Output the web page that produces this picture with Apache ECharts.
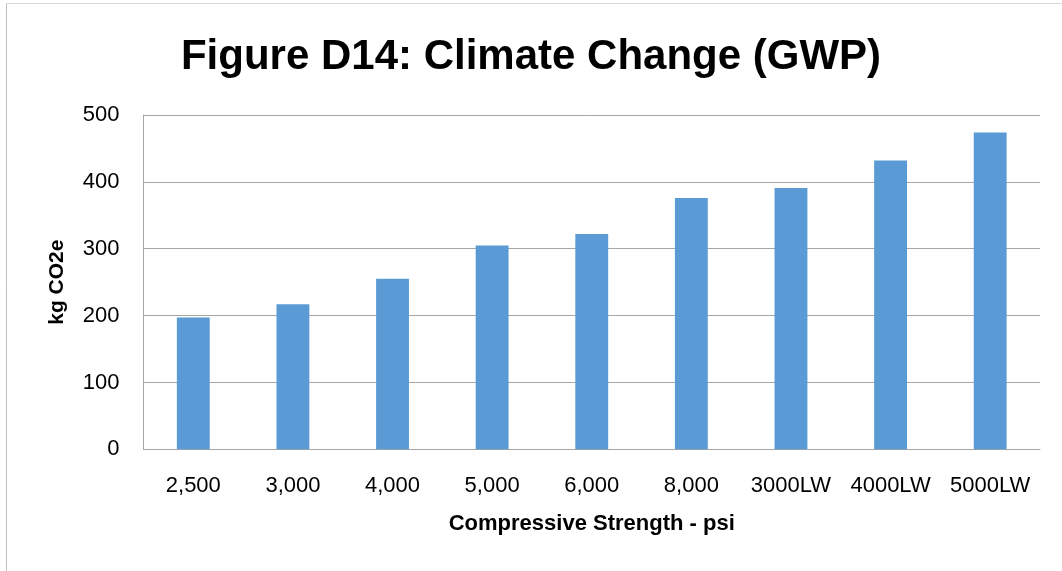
<!DOCTYPE html>
<html><head><meta charset="utf-8">
<script src="https://cdn.jsdelivr.net/npm/echarts@6/dist/echarts.min.js"></script>
<style>html,body{margin:0;padding:0;background:#fff}#c{width:1062px;height:571px}</style>
</head><body><div id="c"></div>
<script>
const categories = ['2,500','3,000','4,000','5,000','6,000','8,000','3000LW','4000LW','5000LW'];
const gwpValues = [197, 217, 255, 305, 322, 376, 391, 432, 474];
const yTicks = [0, 100, 200, 300, 400, 500];

const chart = echarts.init(document.getElementById('c'));
const fontFam = '"Liberation Sans", Arial, sans-serif';
chart.setOption({
  animation: false,
  backgroundColor: '#fff',
  title: {
    text: 'Figure D14: Climate Change (GWP)',
    left: 'center', top: 31,
    textStyle: { fontFamily: fontFam, fontWeight: 'bold', fontSize: 42, color: '#000' }
  },
  graphic: [
    { type: 'line', shape: { x1: 6.5, y1: 4, x2: 6.5, y2: 571 }, style: { stroke: '#bfbfbf', lineWidth: 1 } },
    { type: 'line', shape: { x1: 6, y1: 3.5, x2: 1062, y2: 3.5 }, style: { stroke: '#d9d9d9', lineWidth: 1 } }
  ],
  grid: { left: 143.5, right: 22, top: 115, bottom: 121.7 },
  xAxis: {
    type: 'category', data: categories,
    axisLine: { lineStyle: { color: '#a6a6a6' } },
    axisTick: { show: false },
    axisLabel: { fontFamily: fontFam, fontSize: 22, color: '#000', margin: 26, interval: 0 },
    name: 'Compressive Strength - psi', nameLocation: 'middle', nameGap: 64,
    nameTextStyle: { fontFamily: fontFam, fontWeight: 'bold', fontSize: 22, color: '#000' }
  },
  yAxis: {
    type: 'value', min: yTicks[0], max: yTicks[yTicks.length - 1], interval: 100,
    axisLine: { show: true, lineStyle: { color: '#a6a6a6' } },
    axisTick: { show: false },
    splitLine: { lineStyle: { color: '#a6a6a6' } },
    axisLabel: { fontFamily: fontFam, fontSize: 22, color: '#000', margin: 24 },
    name: 'kg CO2e', nameLocation: 'middle', nameGap: 76, nameRotate: 90,
    nameTextStyle: { fontFamily: fontFam, fontWeight: 'bold', fontSize: 21, color: '#000' }
  },
  series: [{
    type: 'bar', data: gwpValues, barWidth: '33%',
    itemStyle: { color: '#5b9bd5' }
  }]
});
</script></body></html>
